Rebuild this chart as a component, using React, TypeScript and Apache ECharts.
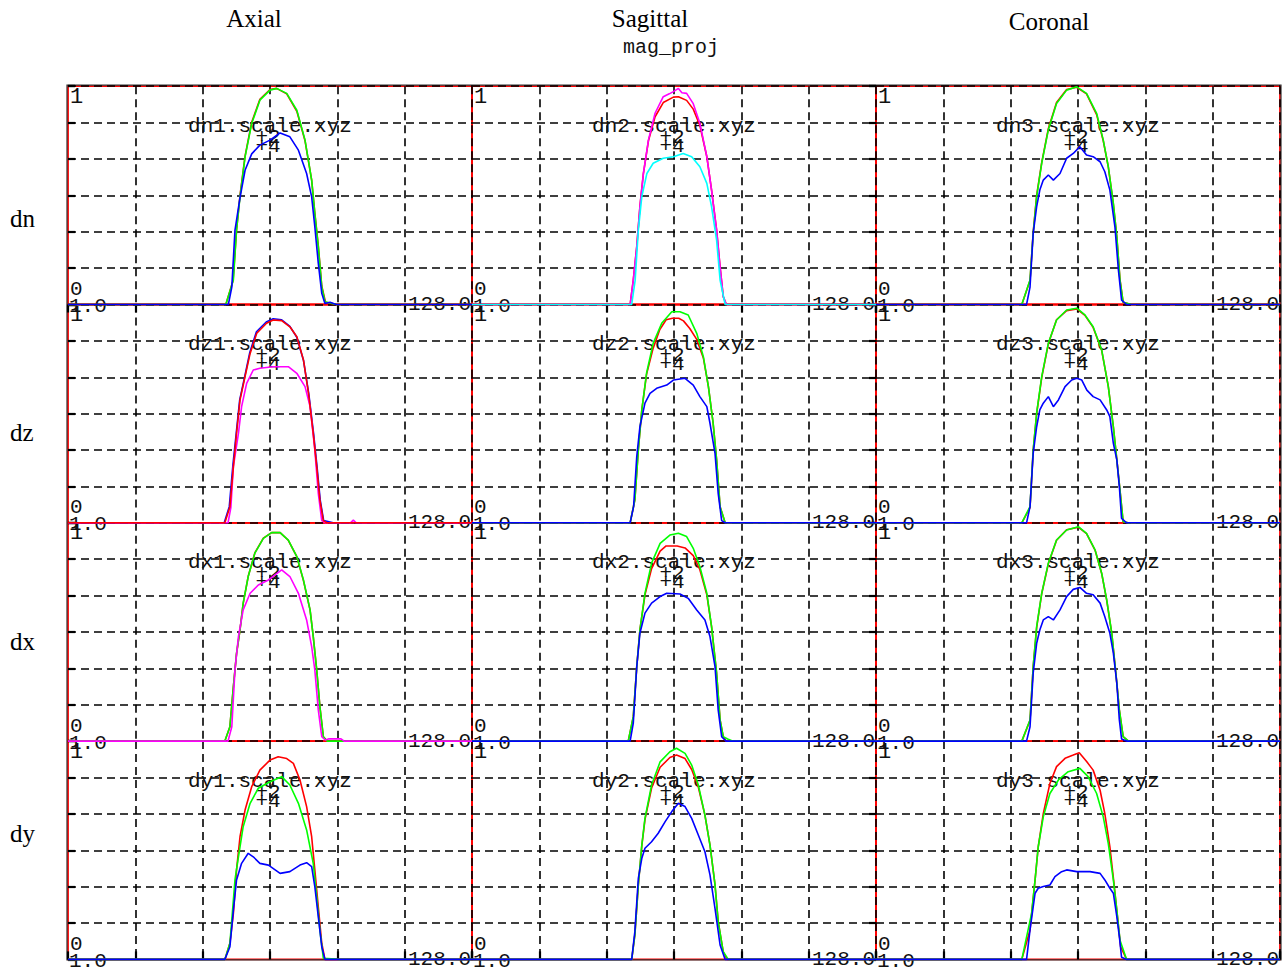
import React, { useEffect, useRef } from "react";
import * as echarts from "echarts";

// ---------- texts ----------
const ROW_NAMES = ["dn", "dz", "dx", "dy"];
const COL_TITLES = ["Axial", "Sagittal", "Coronal"];
const SUPER_TITLE = "mag_proj";
const FILE_SUFFIX = ".scale.xyz";
const X_LABEL_MIN = "1.0";
const X_LABEL_MAX = "128.0";
const Y_LABEL_MIN = "0";
const Y_LABEL_MAX = "1";
const MARK_A = "+2";
const MARK_B = "+4";

// ---------- axis ranges ----------
const X_MIN = 0;
const X_MAX = 128;
const Y_MIN = 0;
const Y_MAX = 1;
const GRID_DIVISIONS = 6;

// ---------- colours ----------
const RED = "#ff0000";
const GREEN = "#00ff00";
const BLUE = "#0000ff";
const MAGENTA = "#ff00ff";
const CYAN = "#00ffff";

// ---------- profile values [index, normalised value] ----------
const dn1Red: [number, number][] = [[50.0, 0], [52.3, 0.11], [53.4, 0.34], [54.5, 0.5], [56.1, 0.68], [58.2, 0.835], [60.8, 0.94], [64.0, 0.985], [66.1, 0.99], [69.3, 0.965], [72.5, 0.885], [75.1, 0.75], [77.2, 0.57], [78.2, 0.42], [79.3, 0.27], [80.4, 0.085], [81.6, 0.01], [85, 0]];
const dn1Green: [number, number][] = [[50.0, 0], [52.4, 0.112], [53.4, 0.341], [54.5, 0.493], [56.1, 0.676], [58.2, 0.829], [60.8, 0.936], [64.0, 0.982], [66.1, 0.99], [69.3, 0.967], [72.5, 0.89], [75.1, 0.753], [77.2, 0.57], [78.2, 0.417], [79.3, 0.265], [80.4, 0.081], [81.4, 0.013], [85, 0]];
const dn1Blue: [number, number][] = [[50.8, 0], [51.9, 0.08], [52.9, 0.34], [54.5, 0.49], [56.1, 0.615], [58.2, 0.69], [60.8, 0.73], [64.0, 0.753], [67.2, 0.786], [70.3, 0.768], [73.0, 0.707], [75.6, 0.6], [77.2, 0.493], [78.2, 0.356], [79.3, 0.189], [80.4, 0.051], [81.4, 0.005], [83, 0.01], [85, 0]];

const dn2Red: [number, number][] = [[50.1, 0], [51.1, 0.112], [52.2, 0.265], [53.2, 0.448], [54.3, 0.6], [55.9, 0.75], [58.0, 0.86], [60.6, 0.925], [63.8, 0.95], [65.4, 0.952], [68.0, 0.935], [70.1, 0.895], [72.2, 0.82], [74.4, 0.677], [75.9, 0.524], [77.5, 0.341], [78.6, 0.173], [79.6, 0.036], [80.6, 0]];
const dn2Magenta: [number, number][] = [[50.1, 0], [51.1, 0.112], [52.2, 0.265], [53.2, 0.448], [54.3, 0.6], [55.9, 0.753], [58.0, 0.876], [60.6, 0.952], [62.5, 0.965], [63.8, 0.975], [65.4, 0.99], [66.5, 0.97], [68.0, 0.967], [70.1, 0.92], [72.2, 0.83], [74.4, 0.677], [75.9, 0.524], [77.5, 0.341], [78.6, 0.173], [79.6, 0.036], [80.6, 0]];
const dn2Cyan: [number, number][] = [[50.6, 0], [51.7, 0.112], [52.7, 0.341], [53.8, 0.494], [55.4, 0.6], [57.4, 0.647], [60.6, 0.67], [63.8, 0.677], [66.9, 0.692], [69.6, 0.677], [72.2, 0.631], [74.4, 0.555], [75.9, 0.448], [77.5, 0.295], [78.6, 0.112], [80.2, 0]];

const dn3Red: [number, number][] = [[46.2, 0], [48.8, 0.11], [49.8, 0.33], [50.9, 0.5], [52.5, 0.65], [54.6, 0.805], [57.2, 0.925], [60.4, 0.985], [63.6, 0.995], [66.7, 0.965], [69.9, 0.87], [72.0, 0.75], [73.6, 0.63], [75.2, 0.46], [76.3, 0.31], [77.3, 0.115], [78.3, 0.01], [80.9, 0]];
const dn3Green: [number, number][] = [[46.2, 0], [48.8, 0.112], [49.8, 0.326], [50.9, 0.494], [52.5, 0.647], [54.6, 0.8], [57.2, 0.921], [60.4, 0.982], [63.6, 0.997], [66.7, 0.967], [69.9, 0.876], [72.0, 0.753], [73.6, 0.631], [75.2, 0.463], [76.3, 0.31], [77.3, 0.112], [78.3, 0.01], [80.9, 0]];
const dn3Blue: [number, number][] = [[47.7, 0], [48.8, 0.08], [49.8, 0.326], [50.9, 0.448], [51.9, 0.524], [53.0, 0.57], [54.6, 0.593], [56.2, 0.57], [58.3, 0.6], [60.4, 0.67], [62.5, 0.692], [64.6, 0.723], [66.7, 0.685], [68.8, 0.677], [71.0, 0.654], [72.5, 0.608], [74.1, 0.524], [75.7, 0.356], [76.8, 0.158], [77.8, 0.02], [79.4, 0]];

const dz1Blue: [number, number][] = [[49.5, 0], [51.1, 0.074], [52.2, 0.257], [53.3, 0.41], [54.4, 0.563], [56.0, 0.67], [57.6, 0.78], [59.7, 0.875], [62.8, 0.92], [65.0, 0.935], [67.7, 0.93], [70.3, 0.9], [72.5, 0.85], [74.6, 0.745], [76.3, 0.59], [77.8, 0.41], [78.9, 0.257], [79.9, 0.105], [81.0, 0.01], [84, 0]];
const dz1Magenta: [number, number][] = [[50.7, 0], [51.6, 0.07], [52.4, 0.257], [54.0, 0.41], [55.0, 0.532], [56.6, 0.639], [58.7, 0.7], [60.8, 0.708], [65.0, 0.715], [69.8, 0.715], [72.5, 0.685], [75.1, 0.624], [76.7, 0.532], [78.2, 0.334], [79.3, 0.135], [80.4, 0.01], [81.5, 0], [89.5, 0], [90.4, 0.012], [91.3, 0]];
const dz1Red: [number, number][] = [[49.7, 0], [51.3, 0.074], [52.4, 0.257], [53.4, 0.41], [54.5, 0.563], [56.1, 0.67], [57.7, 0.776], [59.8, 0.868], [62.9, 0.914], [65.0, 0.929], [67.7, 0.926], [70.3, 0.898], [72.5, 0.852], [74.6, 0.746], [76.2, 0.593], [77.7, 0.41], [78.8, 0.257], [79.8, 0.105], [80.9, 0.01], [82, 0]];

const dz2Red: [number, number][] = [[50.1, 0], [51.6, 0.105], [52.7, 0.334], [53.8, 0.517], [55.3, 0.68], [57.4, 0.8], [59.5, 0.885], [61.5, 0.93], [63.5, 0.937], [65.5, 0.937], [67.0, 0.925], [69.0, 0.89], [71.2, 0.84], [73.3, 0.755], [74.9, 0.624], [76.4, 0.456], [77.5, 0.288], [78.6, 0.074], [80.2, 0]];
const dz2Green: [number, number][] = [[50.1, 0], [51.6, 0.105], [52.7, 0.334], [53.8, 0.517], [55.3, 0.685], [57.4, 0.822], [60.1, 0.914], [63.3, 0.967], [65.9, 0.967], [68.5, 0.952], [71.2, 0.868], [73.3, 0.761], [74.9, 0.624], [76.4, 0.456], [77.5, 0.288], [78.6, 0.074], [80.2, 0]];
const dz2Blue: [number, number][] = [[50.1, 0], [51.2, 0.074], [52.2, 0.303], [53.2, 0.44], [54.8, 0.548], [56.4, 0.593], [58.5, 0.616], [61.7, 0.631], [63.8, 0.654], [67.5, 0.662], [70.1, 0.631], [72.2, 0.578], [74.4, 0.532], [75.4, 0.456], [77.0, 0.318], [78.0, 0.135], [79.1, 0.01], [80.2, 0]];

const dz3Red: [number, number][] = [[46.2, 0], [48.8, 0.07], [49.8, 0.33], [50.9, 0.5], [52.5, 0.665], [54.6, 0.82], [57.2, 0.93], [60.4, 0.972], [63.6, 0.98], [66.2, 0.95], [68.8, 0.895], [71.5, 0.79], [73.6, 0.625], [75.2, 0.44], [76.3, 0.29], [77.3, 0.15], [78.3, 0.005], [79.9, 0]];
const dz3Green: [number, number][] = [[46.2, 0], [48.8, 0.074], [49.8, 0.334], [50.9, 0.502], [52.5, 0.67], [54.6, 0.822], [57.2, 0.929], [60.4, 0.975], [63.6, 0.983], [66.2, 0.952], [68.8, 0.898], [71.5, 0.792], [73.6, 0.624], [75.2, 0.44], [76.3, 0.288], [77.3, 0.15], [78.3, 0.005], [79.9, 0]];
const dz3Blue: [number, number][] = [[47.7, 0], [48.8, 0.074], [49.8, 0.318], [50.9, 0.44], [51.9, 0.517], [53.0, 0.548], [54.6, 0.578], [56.2, 0.532], [57.8, 0.563], [59.9, 0.624], [62.0, 0.654], [63.6, 0.662], [65.2, 0.654], [66.8, 0.608], [68.8, 0.578], [71.0, 0.563], [73.1, 0.517], [74.1, 0.486], [75.2, 0.364], [76.3, 0.288], [77.1, 0.166], [77.8, 0.02], [79.4, 0]];

const dx1Red: [number, number][] = [[49.7, 0], [51.3, 0.066], [52.4, 0.25], [53.4, 0.4], [54.5, 0.51], [55.5, 0.63], [57.1, 0.755], [59.2, 0.862], [61.9, 0.93], [64.5, 0.955], [67.2, 0.955], [69.8, 0.92], [72.5, 0.845], [74.6, 0.735], [76.7, 0.6], [77.7, 0.48], [78.8, 0.325], [79.8, 0.16], [80.9, 0.02], [82.1, 0]];
const dx1Green: [number, number][] = [[49.7, 0], [51.3, 0.066], [52.4, 0.25], [53.4, 0.403], [54.5, 0.509], [55.5, 0.632], [57.1, 0.754], [59.2, 0.861], [61.9, 0.929], [64.5, 0.955], [67.2, 0.955], [69.8, 0.921], [72.5, 0.845], [74.6, 0.738], [76.7, 0.601], [77.7, 0.479], [78.8, 0.326], [79.8, 0.158], [80.9, 0.02], [82.1, 0]];
const dx1Magenta: [number, number][] = [[50.7, 0], [51.9, 0.066], [52.9, 0.326], [54.0, 0.479], [55.5, 0.601], [57.7, 0.677], [60.3, 0.715], [63.5, 0.738], [65.6, 0.761], [67.7, 0.784], [70.3, 0.754], [73.0, 0.677], [75.6, 0.555], [77.2, 0.433], [78.2, 0.326], [79.3, 0.143], [80.4, 0.02], [81.5, 0.005], [82.5, 0.01], [86.5, 0.01], [87.5, 0]];

const dx2Red: [number, number][] = [[49.5, 0], [51.1, 0.112], [52.2, 0.341], [53.2, 0.509], [54.8, 0.67], [56.9, 0.79], [59.6, 0.87], [61.5, 0.894], [65.0, 0.894], [67.5, 0.885], [70.1, 0.85], [72.2, 0.785], [74.4, 0.67], [75.9, 0.524], [77.5, 0.311], [78.6, 0.097], [79.6, 0.02], [80.5, 0]];
const dx2Green: [number, number][] = [[49.5, 0], [51.1, 0.112], [52.2, 0.341], [53.2, 0.509], [54.8, 0.677], [56.9, 0.815], [59.6, 0.906], [62.7, 0.944], [65.4, 0.952], [68.0, 0.937], [70.1, 0.883], [72.2, 0.799], [74.4, 0.677], [75.9, 0.524], [77.5, 0.311], [78.6, 0.097], [79.6, 0.02], [81.0, 0.01], [82.5, 0]];
const dx2Blue: [number, number][] = [[50.1, 0], [51.1, 0.082], [52.2, 0.341], [53.2, 0.494], [54.8, 0.586], [56.9, 0.632], [59.6, 0.662], [61.7, 0.677], [65.9, 0.674], [68.5, 0.654], [71.2, 0.601], [73.8, 0.555], [75.4, 0.479], [77.0, 0.341], [78.0, 0.143], [79.1, 0.02], [80.5, 0]];

const dx3Red: [number, number][] = [[46.2, 0], [48.8, 0.095], [49.8, 0.34], [50.9, 0.52], [52.5, 0.675], [54.6, 0.812], [57.2, 0.92], [60.4, 0.968], [64.1, 0.98], [66.7, 0.95], [69.4, 0.875], [71.5, 0.768], [73.1, 0.645], [74.7, 0.494], [76.0, 0.31], [77.1, 0.143], [78.3, 0.02], [80, 0]];
const dx3Green: [number, number][] = [[46.2, 0], [48.8, 0.097], [49.8, 0.341], [50.9, 0.524], [52.5, 0.677], [54.6, 0.815], [57.2, 0.921], [60.4, 0.967], [64.1, 0.982], [66.7, 0.952], [69.4, 0.876], [71.5, 0.769], [73.1, 0.647], [74.7, 0.494], [76.0, 0.311], [77.1, 0.143], [78.3, 0.02], [80, 0]];
const dx3Blue: [number, number][] = [[47.7, 0], [48.8, 0.066], [49.8, 0.311], [50.9, 0.448], [51.9, 0.509], [53.0, 0.555], [54.6, 0.57], [56.2, 0.555], [58.3, 0.601], [60.4, 0.662], [62.5, 0.695], [64.6, 0.704], [66.7, 0.677], [68.8, 0.67], [71.0, 0.632], [72.5, 0.57], [74.1, 0.494], [75.2, 0.403], [76.3, 0.265], [77.1, 0.097], [77.8, 0.01], [79.4, 0]];

const dy1Red: [number, number][] = [[49.7, 0], [51.3, 0.074], [52.4, 0.211], [53.4, 0.41], [54.5, 0.562], [56.1, 0.684], [58.2, 0.791], [60.8, 0.867], [64.0, 0.913], [66.6, 0.928], [69.3, 0.92], [71.4, 0.898], [73.5, 0.822], [75.6, 0.7], [77.2, 0.562], [78.2, 0.41], [79.3, 0.241], [80.4, 0.074], [81.4, 0]];
const dy1Green: [number, number][] = [[49.7, 0], [51.3, 0.074], [52.9, 0.364], [54.0, 0.47], [55.5, 0.608], [57.7, 0.715], [60.3, 0.784], [64.0, 0.814], [67.7, 0.837], [70.3, 0.799], [73.0, 0.715], [75.6, 0.593], [77.7, 0.44], [78.8, 0.287], [79.8, 0.135], [80.9, 0.005], [86, 0]];
const dy1Blue: [number, number][] = [[49.7, 0], [51.3, 0.058], [52.4, 0.226], [53.4, 0.364], [55.0, 0.44], [57.1, 0.486], [58.7, 0.47], [60.8, 0.44], [63.5, 0.432], [67.2, 0.394], [70.3, 0.402], [73.5, 0.432], [75.6, 0.443], [77.2, 0.425], [78.2, 0.333], [79.3, 0.196], [80.4, 0.058], [81.4, 0]];

const dy2Red: [number, number][] = [[50.6, 0], [51.6, 0.112], [52.7, 0.341], [53.8, 0.52], [54.8, 0.64], [56.9, 0.785], [59.6, 0.88], [62.7, 0.925], [64.8, 0.936], [67.5, 0.92], [69.6, 0.87], [71.7, 0.79], [73.8, 0.661], [75.4, 0.524], [77.0, 0.341], [78.0, 0.173], [79.6, 0.035], [80.8, 0]];
const dy2Green: [number, number][] = [[50.6, 0], [51.6, 0.112], [52.7, 0.341], [53.8, 0.524], [54.8, 0.646], [56.9, 0.799], [59.6, 0.905], [62.7, 0.951], [64.8, 0.967], [67.5, 0.944], [69.6, 0.89], [71.7, 0.799], [73.8, 0.661], [75.4, 0.524], [77.0, 0.341], [78.0, 0.173], [79.6, 0.035], [81.2, 0]];
const dy2Blue: [number, number][] = [[50.6, 0], [51.6, 0.127], [52.7, 0.371], [53.8, 0.463], [54.8, 0.509], [56.9, 0.539], [59.0, 0.578], [61.2, 0.631], [63.3, 0.677], [65.4, 0.715], [67.5, 0.7], [69.6, 0.646], [71.7, 0.57], [73.8, 0.493], [75.4, 0.387], [77.0, 0.233], [78.6, 0.066], [80.2, 0]];

const dy3Red: [number, number][] = [[46.2, 0], [48.8, 0.135], [50.4, 0.364], [51.4, 0.516], [53.0, 0.668], [55.1, 0.806], [57.2, 0.883], [59.9, 0.921], [62.5, 0.936], [64.4, 0.947], [66.8, 0.905], [68.8, 0.867], [71.0, 0.775], [72.5, 0.668], [74.1, 0.516], [75.4, 0.348], [76.5, 0.196], [77.5, 0.058], [79.4, 0]];
const dy3Green: [number, number][] = [[46.2, 0], [49.3, 0.211], [50.4, 0.364], [51.4, 0.516], [53.0, 0.653], [55.1, 0.76], [57.8, 0.822], [60.9, 0.86], [64.6, 0.875], [67.2, 0.837], [69.9, 0.76], [72.0, 0.653], [73.6, 0.53], [75.2, 0.364], [76.3, 0.226], [77.3, 0.088], [79.4, 0], [81.5, 0]];
const dy3Blue: [number, number][] = [[47.7, 0], [48.8, 0.135], [50.4, 0.303], [51.4, 0.326], [53.0, 0.334], [55.1, 0.341], [56.7, 0.379], [58.8, 0.402], [60.4, 0.41], [63.6, 0.402], [67.8, 0.402], [71.0, 0.394], [72.5, 0.364], [74.1, 0.326], [75.2, 0.303], [76.3, 0.196], [77.1, 0.104], [77.8, 0.01], [79.4, 0]];

// curves per panel, [row][col], in drawing order (last on top)
type Curve = [string, [number, number][]];
const PANEL_CURVES: Curve[][][] = [
  [
    [[RED, dn1Red], [GREEN, dn1Green], [BLUE, dn1Blue]],
    [[RED, dn2Red], [MAGENTA, dn2Magenta], [CYAN, dn2Cyan]],
    [[RED, dn3Red], [GREEN, dn3Green], [BLUE, dn3Blue]],
  ],
  [
    [[BLUE, dz1Blue], [MAGENTA, dz1Magenta], [RED, dz1Red]],
    [[RED, dz2Red], [GREEN, dz2Green], [BLUE, dz2Blue]],
    [[RED, dz3Red], [GREEN, dz3Green], [BLUE, dz3Blue]],
  ],
  [
    [[RED, dx1Red], [GREEN, dx1Green], [MAGENTA, dx1Magenta]],
    [[RED, dx2Red], [GREEN, dx2Green], [BLUE, dx2Blue]],
    [[RED, dx3Red], [GREEN, dx3Green], [BLUE, dx3Blue]],
  ],
  [
    [[RED, dy1Red], [GREEN, dy1Green], [BLUE, dy1Blue]],
    [[RED, dy2Red], [GREEN, dy2Green], [BLUE, dy2Blue]],
    [[RED, dy3Red], [GREEN, dy3Green], [BLUE, dy3Blue]],
  ],
];

// ---------- layout ----------
const W = 1282;
const H = 970;
const PANEL_LEFT = 68;
const PANEL_TOP = 86.2;
const PANEL_W = 404;
const PANEL_H = 218.3;
const MONO = "'Liberation Mono', 'DejaVu Sans Mono', monospace";
const SERIF = "'Liberation Serif', 'Times New Roman', serif";

function withEnds(pts: [number, number][]): [number, number][] {
  return [[X_MIN, 0], ...pts, [X_MAX, 0]];
}

function txt(text: string, x: number, y: number, font: string, align = "center", vAlign = "middle", z = 1, fill = "#111") {
  return {
    type: "text",
    x,
    y,
    z,
    silent: true,
    style: {
      text,
      font,
      fill,
      textAlign: align,
      textVerticalAlign: vAlign,
      align,
      verticalAlign: vAlign,
    },
  };
}

function buildOption() {
  const grids: any[] = [];
  const xAxes: any[] = [];
  const yAxes: any[] = [];
  const series: any[] = [];
  const graphics: any[] = [];

  const tickStyle = { color: "#000", width: 2.2 };
  const splitStyle = { color: "#000", width: 1.6, type: [8, 5] };

  for (let r = 0; r < ROW_NAMES.length; r++) {
    for (let c = 0; c < COL_TITLES.length; c++) {
      const i = r * COL_TITLES.length + c;
      const left = PANEL_LEFT + c * PANEL_W;
      const top = PANEL_TOP + r * PANEL_H;
      grids.push({
        left,
        top,
        width: PANEL_W,
        height: PANEL_H,
        show: true,
        borderColor: RED,
        borderWidth: 1.8,
        backgroundColor: "transparent",
      });
      xAxes.push({
        type: "value",
        gridIndex: i,
        min: X_MIN,
        max: X_MAX,
        interval: (X_MAX - X_MIN) / GRID_DIVISIONS,
        position: r === 0 ? "top" : "bottom",
        axisLine: { show: false },
        axisLabel: { show: false },
        axisTick: { show: r === 0 || r === ROW_NAMES.length - 1, inside: true, length: 8, lineStyle: tickStyle },
        splitLine: { show: true, showMinLine: false, showMaxLine: false, lineStyle: splitStyle },
      });
      yAxes.push({
        type: "value",
        gridIndex: i,
        min: Y_MIN,
        max: Y_MAX,
        interval: (Y_MAX - Y_MIN) / GRID_DIVISIONS,
        position: c === COL_TITLES.length - 1 ? "right" : "left",
        axisLine: { show: false },
        axisLabel: { show: false },
        axisTick: { show: c !== 1, inside: true, length: 7, lineStyle: tickStyle },
        splitLine: { show: true, showMinLine: false, showMaxLine: false, lineStyle: splitStyle },
      });
      PANEL_CURVES[r][c].forEach(([color, pts]) => {
        series.push({
          type: "line",
          xAxisIndex: i,
          yAxisIndex: i,
          data: withEnds(pts),
          showSymbol: false,
          symbol: "none",
          clip: false,
          silent: true,
          lineStyle: { color, width: 1.6 },
          itemStyle: { color },
          z: 3,
        });
      });

      const cx = left + PANEL_W / 2;
      const base = top + PANEL_H;
      graphics.push(txt(`${ROW_NAMES[r]}${c + 1}${FILE_SUFFIX}`, cx, top + 40, `21px ${MONO}`));
      graphics.push(txt(MARK_A, cx - 2, top + 51, `21px ${MONO}`));
      graphics.push(txt(MARK_B, cx - 2, top + 60, `21px ${MONO}`));
      graphics.push(txt(Y_LABEL_MAX, left + 2, top + 11, `22px ${MONO}`, "left"));
      graphics.push(txt(Y_LABEL_MIN, left + 2, base - 15, `21px ${MONO}`, "left"));
      graphics.push(txt(X_LABEL_MIN, left + 1, base + 2, `21px ${MONO}`, "left"));
      graphics.push(txt(X_LABEL_MAX, left + PANEL_W - 1, base, `21px ${MONO}`, "right"));
    }
  }

  // outer frame
  graphics.push({
    type: "rect",
    z: 0,
    silent: true,
    shape: { x: PANEL_LEFT - 1, y: PANEL_TOP - 1, width: PANEL_W * 3 + 2, height: PANEL_H * 4 + 1.5 },
    style: { fill: "none", stroke: "#333", lineWidth: 1.2 },
  });

  // column titles and super title
  const titleX = [254, 650, 1049];
  const titleY = [18, 18, 21];
  COL_TITLES.forEach((t, c) => graphics.push(txt(t, titleX[c], titleY[c], `25px ${SERIF}`, "center", "middle", 1, "#000")));
  graphics.push(txt(SUPER_TITLE, 671, 47, `20px ${MONO}`));

  // row labels
  const rowY = [218, 432, 641, 833];
  ROW_NAMES.forEach((n, r) => graphics.push(txt(n, 10, rowY[r], `25px ${SERIF}`, "left", "middle", 1, "#000")));

  return {
    animation: false,
    backgroundColor: "#ffffff",
    grid: grids,
    xAxis: xAxes,
    yAxis: yAxes,
    series,
    graphic: { elements: graphics },
  };
}

export default function App() {
  const ref = useRef<HTMLDivElement>(null);
  useEffect(() => {
    if (!ref.current) return;
    const chart = echarts.init(ref.current, undefined, { renderer: "svg", width: W, height: H });
    chart.setOption(buildOption() as any);
    return () => chart.dispose();
  }, []);
  return (
    <div
      ref={ref}
      style={{ position: "absolute", left: 0, top: 0, width: W, height: H, background: "#fff" }}
    />
  );
}
